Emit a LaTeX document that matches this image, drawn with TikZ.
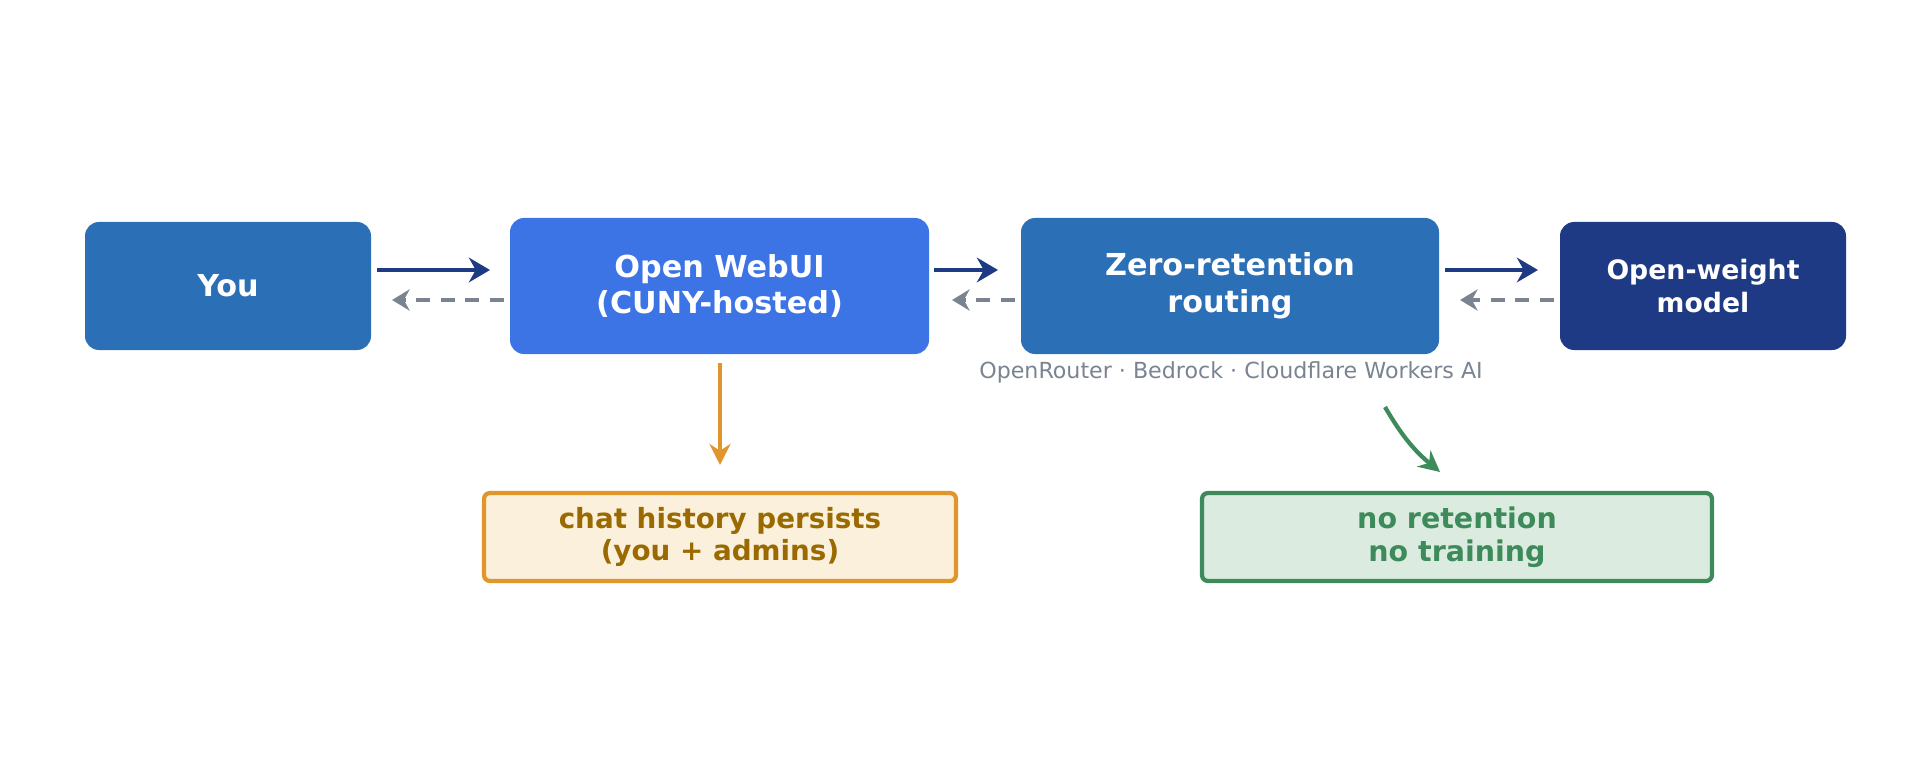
\documentclass[tikz,border=0pt]{standalone}
\usepackage{fontspec}
\setmainfont{DejaVu Sans}
\usetikzlibrary{arrows.meta}
\definecolor{bA}{HTML}{2B6FB6}
\definecolor{bB}{HTML}{3D74E5}
\definecolor{bC}{HTML}{1E3A84}
\definecolor{gr}{HTML}{7A8491}
\definecolor{orL}{HTML}{E0962A}
\definecolor{orF}{HTML}{FBF0DC}
\definecolor{orT}{HTML}{9A6A00}
\definecolor{gnL}{HTML}{3D8A5A}
\definecolor{gnF}{HTML}{DCEBDF}
\begin{document}
\begin{tikzpicture}[x=0.01cm,y=-0.01cm,
 box/.style={rounded corners=0.14cm,inner sep=0,text=white,font=\bfseries\fontsize{8.6}{10.4}\selectfont,align=center},
 fwd/.style={draw=bC,line width=1.4pt,-{Stealth[length=6pt,width=7pt]}},
 back/.style={draw=gr,line width=1.2pt,dash pattern=on 4pt off 3pt,-{Stealth[length=5pt,width=6pt]}}]
\useasboundingbox (0,0) rectangle (1930,779);
\fill[bA,rounded corners=0.14cm] (85,222) rectangle (371,350);
\node[box] (you) at (228,286) {You};
\fill[bB,rounded corners=0.14cm] (510,218) rectangle (929,354);
\node[box] (web) at (719.5,286) {Open WebUI\\(CUNY-hosted)};
\fill[bA,rounded corners=0.14cm] (1021,218) rectangle (1439,354);
\node[box] (zero) at (1230,286) {Zero-retention\\routing};
\fill[bC,rounded corners=0.14cm] (1560,222) rectangle (1846,350);
\node[box,font=\bfseries\fontsize{7.6}{9.4}\selectfont] (ow) at (1703,286) {Open-weight\\model};
\coordinate (a1) at (377,270); \coordinate (a2) at (490,270);
\coordinate (a3) at (934,270); \coordinate (a4) at (998,270);
\coordinate (a5) at (1445,270); \coordinate (a6) at (1538,270);
\draw[fwd] (a1) -- (a2); \draw[fwd] (a3) -- (a4); \draw[fwd] (a5) -- (a6);
\coordinate (d1) at (504,300); \coordinate (d2) at (392,300);
\coordinate (d3) at (1015,300); \coordinate (d4) at (952,300);
\coordinate (d5) at (1554,300); \coordinate (d6) at (1460,300);
\draw[back] (d1) -- (d2); \draw[back] (d3) -- (d4); \draw[back] (d5) -- (d6);
\node[text=gr,font=\fontsize{6.3}{7.5}\selectfont] (sub) at (1231,372) {OpenRouter · Bedrock · Cloudflare Workers AI};
\draw[orL,line width=1.2pt,fill=orF,rounded corners=0.06cm] (484,493) rectangle (956,581);
\node[text=orT,font=\bfseries\fontsize{7.9}{9.3}\selectfont,align=center] (chat) at (720,537) {chat history persists\\(you + admins)};
\draw[gnL,line width=1.2pt,fill=gnF,rounded corners=0.06cm] (1202,493) rectangle (1712,581);
\node[text=gnL,font=\bfseries\fontsize{8.1}{9.5}\selectfont,align=center] (nr) at (1457,537) {no retention\\no training};
\coordinate (o1) at (720,363); \coordinate (o2) at (720,465);
\draw[orL,line width=1.2pt,-{Stealth[length=6pt,width=6pt]}] (o1) -- (o2);
\coordinate (g1) at (1385,407); \coordinate (g2) at (1440,472);
\draw[gnL,line width=1.2pt,-{Stealth[length=6pt,width=6pt]}] (g1) to[bend right=10] (g2);
\end{tikzpicture}
\end{document}
